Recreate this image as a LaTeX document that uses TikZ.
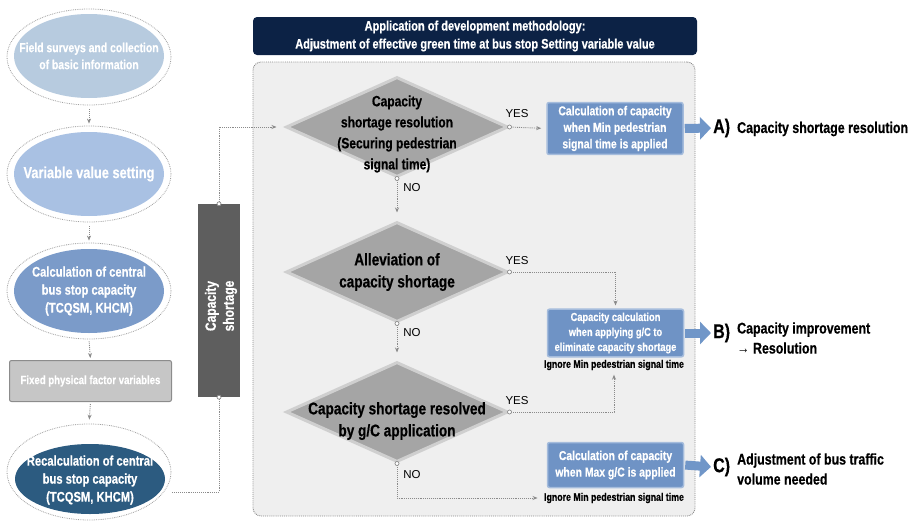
\documentclass[tikz,border=0pt]{standalone}
\usepackage{fontspec}
\setmainfont{Liberation Sans}[FakeStretch=0.8, BoldFeatures={FakeBold=0.5}]
\newfontfamily\plainsans{Liberation Sans}
\usetikzlibrary{shapes.geometric,arrows.meta}

\definecolor{ovalA}{HTML}{B7CBDF}
\definecolor{ovalB}{HTML}{A9C1E3}
\definecolor{ovalC}{HTML}{7B9BC9}
\definecolor{ovalD}{HTML}{2C5B80}
\definecolor{navy}{HTML}{0C2245}
\definecolor{panelgray}{HTML}{EFEFEF}
\definecolor{boxblue}{HTML}{6F93C5}
\definecolor{boxedge}{HTML}{A5BCDC}
\definecolor{diafill}{HTML}{A5A5A5}
\definecolor{diaedge}{HTML}{CFCFCF}
\definecolor{barfill}{HTML}{5E5E5E}
\definecolor{rectfill}{HTML}{C6C6C6}
\definecolor{rectedge}{HTML}{8C8C8C}
\definecolor{linegray}{HTML}{8A8A8A}
\definecolor{fatblue}{HTML}{7096C8}

\tikzset{
  ring/.style={ellipse, draw=linegray!80, densely dotted, line width=0.8pt,
    fill=white, inner sep=0, minimum width=164pt, minimum height=96pt},
  oval/.style={ellipse, inner sep=0, minimum width=150pt, minimum height=84pt},
  ovaltext/.style={text=white, align=center, inner sep=0,
    font=\bfseries\fontsize{13}{17}\selectfont},
  flow/.style={draw=linegray, densely dotted, line width=0.9pt,
    -{Stealth[length=5pt,width=4pt]}},
  plainflow/.style={draw=linegray, densely dotted, line width=0.9pt},
  startdot/.style={circle, draw=linegray, fill=white, inner sep=0,
    minimum size=4pt, line width=0.7pt},
  decision/.style={diamond, fill=diafill, draw=diaedge, line width=3pt,
    inner sep=0, minimum width=222pt, minimum height=100pt},
  dtext/.style={align=center, font=\bfseries\fontsize{15}{21}\selectfont},
  calcbox/.style={rectangle, rounded corners=2pt, fill=boxblue, draw=boxedge,
    line width=1.5pt, text=white, align=center, minimum width=136pt,
    font=\bfseries\fontsize{13}{16.5}\selectfont},
  note/.style={font=\bfseries\fontsize{11}{12}\selectfont},
  yn/.style={font=\plainsans\fontsize{11.5}{13}\selectfont},
  fat/.style={draw=fatblue, line width=9pt, -{Triangle[length=11pt,width=22pt]}},
  letter/.style={anchor=west, inner sep=0, font=\bfseries\fontsize{20}{20}\selectfont},
  outcome/.style={anchor=west, inner sep=0, align=left,
    font=\bfseries\fontsize{15.5}{20}\selectfont},
}

\begin{document}
\begin{tikzpicture}[x=1pt, y=-1pt]
\useasboundingbox (0,0) rectangle (913,522);

% ---------- left column: preparation steps ----------
\node[ring] (r1) at (89,57) {};
\node[oval, fill=ovalA] (o1) at (89,56) {};
\node[ovaltext] (o1t) at (o1) {Field surveys and collection\\of basic information};
\node[ring] (r2) at (89,174) {};
\node[oval, fill=ovalB] (o2) at (89,174) {};
\node[ovaltext, font=\bfseries\fontsize{16}{18}\selectfont] (o2t) at (o2) {Variable value setting};
\node[ring] (r3) at (89,291) {};
\node[oval, fill=ovalC] (o3) at (89,291) {};
\node[ovaltext, font=\bfseries\fontsize{14}{18}\selectfont] (o3t) at (o3) {Calculation of central\\bus stop capacity\\(TCQSM, KHCM)};
\node[rectangle, rounded corners=2pt, fill=rectfill, draw=rectedge, line width=1pt,
      minimum width=162pt, minimum height=41pt, text=white,
      font=\bfseries\fontsize{12}{14}\selectfont] (fx) at (90.5,381) {Fixed physical factor variables};
\node[ring] (r4) at (89,472) {};
\node[oval, fill=ovalD, minimum height=70pt] (o4) at (90,479) {};
\node[ovaltext, font=\bfseries\fontsize{14}{18}\selectfont] (o4t) at (90,480) {Recalculation of central\\bus stop capacity\\(TCQSM, KHCM)};

\draw[flow, shorten <=4pt, shorten >=2pt] (r1.south) -- (r2.north);
\draw[flow, shorten <=4pt, shorten >=2pt] (r2.south) -- (r3.north);
\draw[flow, shorten <=2pt, shorten >=2pt] (r3.south) -- (fx.north);
\draw[flow, shorten <=2pt, shorten >=4pt] (fx.south) -- (r4.north);

% ---------- capacity shortage bar ----------
\node[rectangle, fill=barfill, minimum width=42pt, minimum height=193pt, inner sep=0] (bar) at (219,300.5) {};
\node[rotate=90, text=white, align=center, font=\bfseries\fontsize{15}{18}\selectfont] (bartxt) at (221,306) {Capacity\\shortage};

% ---------- header and panel ----------
\node[rectangle, rounded corners=4pt, fill=navy, text=white, minimum width=444pt,
      minimum height=38pt, align=center, font=\bfseries\fontsize{13.8}{18}\selectfont] (head) at (475,36)
  {Application of development methodology:\\Adjustment of effective green time at bus stop Setting variable value};
\node[rectangle, rounded corners=8pt, fill=panelgray, draw=linegray, densely dotted, line width=0.9pt,
      minimum width=442pt, minimum height=454pt] (panel) at (474,289) {};

% ---------- decisions ----------
\node[decision] (d1) at (397,127) {};
\node[dtext] (t1) at (397,134) {Capacity\\shortage resolution\\(Securing pedestrian\\signal time)};
\node[decision] (d2) at (397,272) {};
\node[dtext, font=\bfseries\fontsize{17}{22}\selectfont] (t2) at (397,272) {Alleviation of\\capacity shortage};
\node[decision] (d3) at (397,412) {};
\node[dtext, font=\bfseries\fontsize{17}{22}\selectfont] (t3) at (397,421) {Capacity shortage resolved\\by g/C application};

% ---------- calculations ----------
\node[calcbox, minimum height=48pt] (bA) at (615,128.5) {Calculation of capacity\\when Min pedestrian\\signal time is applied};
\node[calcbox, minimum height=47pt, font=\bfseries\fontsize{11.6}{15}\selectfont] (bB) at (615.5,333) {Capacity calculation\\when applying g/C to\\eliminate capacity shortage};
\node[note] (iB) at (614,365) {Ignore Min pedestrian signal time};
\node[calcbox, minimum height=45pt] (bC) at (615.5,465) {Calculation of capacity\\when Max g/C is applied};
\node[note] (iC) at (614,498) {Ignore Min pedestrian signal time};

% ---------- connectors ----------
\coordinate (backin) at (172,492);
\draw[plainflow] (bar.south) |- (backin);
\draw[flow, shorten >=8pt] (bar.north) |- (d1.west);
\node[startdot] at (bar.north) {};
\node[startdot] at (bar.south) {};

\draw[flow, shorten >=5pt] (d1.east) -- (bA.west);
\draw[flow, shorten >=8pt] (d1.south) -- (d2.north);
\draw[flow, shorten >=3pt] (d2.east) -| (bB.north);
\draw[flow, shorten >=8pt] (d2.south) -- (d3.north);
\draw[flow, shorten >=1pt] (d3.east) -| (iB.south);
\draw[flow, shorten >=3pt] (d3.south) |- (iC.west);
\foreach \d in {d1,d2,d3} {
  \node[startdot] at (\d.east) {};
  \node[startdot] at (\d.south) {};
}

\node[yn] (y1) at (517,114) {YES};
\node[yn] (n1) at (412,188) {NO};
\node[yn] (y2) at (517,261) {YES};
\node[yn] (n2) at (412,333) {NO};
\node[yn] (y3) at (517,401) {YES};
\node[yn] (n3) at (412,475) {NO};

% ---------- outcomes ----------
\node[letter] (lA) at (713,128) {A)};
\node[outcome] (oA) at (737,129) {Capacity shortage resolution};
\node[letter] (lB) at (713,333) {B)};
\node[outcome] (oB) at (737,338) {Capacity improvement\\{\mdseries →} Resolution};
\node[letter] (lC) at (713,467) {C)};
\node[outcome] (oC) at (737,469) {Adjustment of bus traffic\\volume needed};

\draw[fat, shorten <=1pt, shorten >=2pt] (bA.east) -- (lA.west);
\draw[fat, shorten <=1pt, shorten >=2pt] (bB.east) -- (lB.west);
\draw[fat, shorten <=1pt, shorten >=2pt] (bC.east) -- (lC.west);
\end{tikzpicture}
\end{document}
